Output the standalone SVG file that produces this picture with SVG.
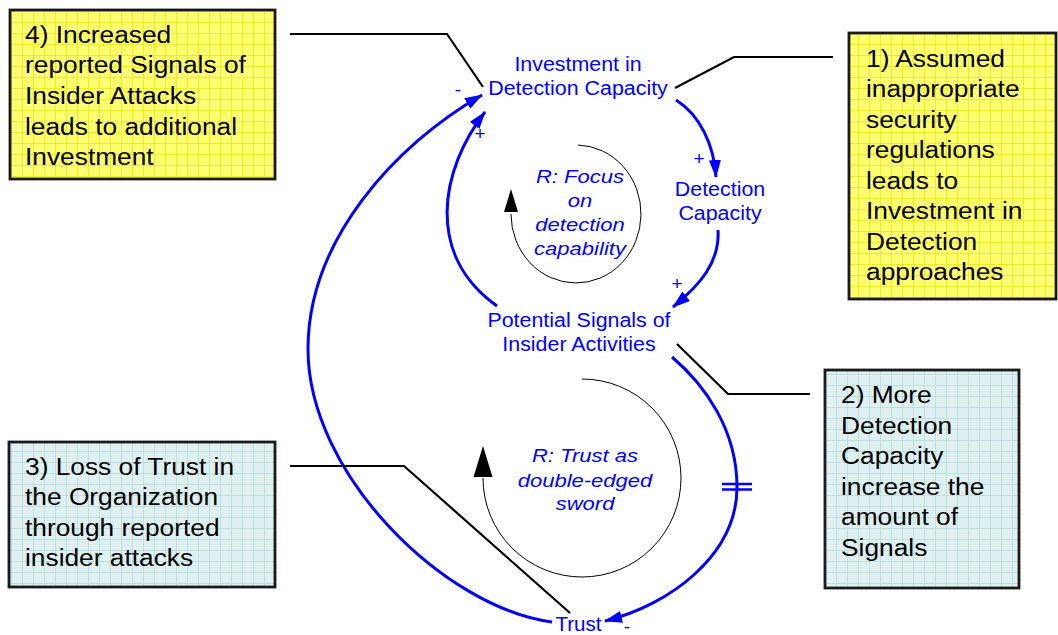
<svg xmlns="http://www.w3.org/2000/svg" width="1058" height="635" viewBox="0 0 1058 635">
<style>
.box{stroke:#1a1a1a;stroke-width:2.8}
.bt{font-family:"Liberation Sans",Arial,sans-serif;font-size:23.5px;fill:#000}
.nt{font-family:"Liberation Sans",Arial,sans-serif;font-size:20px;fill:#0000ff;text-anchor:middle}
.lt{font-family:"Liberation Sans",Arial,sans-serif;font-size:19px;font-style:italic;fill:#0000ff;text-anchor:middle}
.pol{font-family:"Liberation Sans",Arial,sans-serif;font-size:19px;fill:#0000ff;text-anchor:middle}
.link{fill:none;stroke:#0000ff;stroke-width:3}
.call{fill:none;stroke:#000;stroke-width:2.2}
.loop{fill:none;stroke:#000;stroke-width:1}
</style>
<defs>
<pattern id="gy" width="11" height="11" patternUnits="userSpaceOnUse">
<rect width="11" height="11" fill="#ffff70"/>
<path d="M0,0.5 H11 M0.5,0 V11" stroke="#e8e820" stroke-width="0.8"/>
</pattern>
<pattern id="gb" width="11" height="11" patternUnits="userSpaceOnUse">
<rect width="11" height="11" fill="#def0f0"/>
<path d="M0,0.5 H11 M0.5,0 V11" stroke="#b8dcdc" stroke-width="0.8"/>
</pattern>
<marker id="ah" markerUnits="userSpaceOnUse" markerWidth="20" markerHeight="14" refX="17" refY="6" orient="auto">
<path d="M0,0 L18,6 L0,12 z" fill="#0000ff"/>
</marker>
</defs>

<g id="connectors">
<path class="link" d="M676,100 C700,115 714,145 716,177" marker-end="url(#ah)"/>
<path class="link" d="M718,230 C720,262 700,285 673,307" marker-end="url(#ah)"/>
<path class="link" d="M497,306 C425,255 440,170 485,112" marker-end="url(#ah)"/>
<path class="link" d="M552,622 C445,608 308,475 308,349 C308,240 395,145 482,95" marker-end="url(#ah)"/>
<path class="link" d="M672,357 C705,385 737,430 737,487 C737,555 670,605 605,621" marker-end="url(#ah)"/>
<path d="M722,484 H752 M722,489.5 H752" stroke="#0000ff" stroke-width="2.5"/>
<text class="pol" x="458" y="96">-</text>
<text class="pol" x="480" y="140">+</text>
<text class="pol" x="699" y="165">+</text>
<text class="pol" x="677" y="290">+</text>
<text class="pol" x="627" y="633">-</text>
</g>

<g id="callouts">
<path class="call" d="M290,34 H447 L483,87"/>
<path class="call" d="M833,57 H734 L675,88"/>
<path class="call" d="M810,394 H728 L677,344"/>
<path class="call" d="M290,466 H404 L570,613"/>
</g>

<g id="loop-focus">
<path class="loop" d="M578,145 A65,69 0 1 1 511,214"/>
<polygon points="504,212 518,212 511,189" fill="#000"/>
<g transform="translate(580 0) scale(1.16 1)">
<text class="lt" x="0" y="183">R: Focus</text>
<text class="lt" x="0" y="207.5">on</text>
<text class="lt" x="0" y="231.5">detection</text>
<text class="lt" x="0" y="255">capability</text>
</g>
</g>

<g id="loop-trust">
<path class="loop" d="M582,379 A99,99 0 1 1 483,478"/>
<polygon points="473.5,477 492.5,477 483,446" fill="#000"/>
<g transform="translate(585 0) scale(1.16 1)">
<text class="lt" x="0" y="462">R: Trust as</text>
<text class="lt" x="0" y="487.5">double-edged</text>
<text class="lt" x="0" y="510">sword</text>
</g>
</g>

<g id="node-investment" transform="translate(578 0) scale(1.07 1)">
<text class="nt" x="0" y="71">Investment in</text>
<text class="nt" x="0" y="95">Detection Capacity</text>
</g>
<g id="node-detection" transform="translate(720 0) scale(1.07 1)">
<text class="nt" x="0" y="196">Detection</text>
<text class="nt" x="0" y="220">Capacity</text>
</g>
<g id="node-signals" transform="translate(579 0) scale(1.07 1)">
<text class="nt" x="0" y="327">Potential Signals of</text>
<text class="nt" x="0" y="351">Insider Activities</text>
</g>
<g id="node-trust" transform="translate(578.5 0) scale(1.03 1)">
<text class="nt" x="0" y="631">Trust</text>
</g>

<g id="note-4">
<rect class="box" x="10" y="10" width="265" height="169" fill="url(#gy)"/>
<g transform="translate(25 0) scale(1.12 1)">
<text class="bt" x="0" y="43">4) Increased</text>
<text class="bt" x="0" y="73.5">reported Signals of</text>
<text class="bt" x="0" y="104">Insider Attacks</text>
<text class="bt" x="0" y="135">leads to additional</text>
<text class="bt" x="0" y="165.5">Investment</text>
</g>
</g>

<g id="note-1">
<rect class="box" x="849" y="33" width="207" height="266" fill="url(#gy)"/>
<g transform="translate(866 0) scale(1.12 1)">
<text class="bt" x="0" y="67">1) Assumed</text>
<text class="bt" x="0" y="97.5">inappropriate</text>
<text class="bt" x="0" y="128">security</text>
<text class="bt" x="0" y="158.5">regulations</text>
<text class="bt" x="0" y="189">leads to</text>
<text class="bt" x="0" y="219.5">Investment in</text>
<text class="bt" x="0" y="250">Detection</text>
<text class="bt" x="0" y="280.5">approaches</text>
</g>
</g>

<g id="note-2">
<rect class="box" x="825" y="370" width="194" height="218" fill="url(#gb)"/>
<g transform="translate(841 0) scale(1.12 1)">
<text class="bt" x="0" y="403.5">2) More</text>
<text class="bt" x="0" y="434">Detection</text>
<text class="bt" x="0" y="464.5">Capacity</text>
<text class="bt" x="0" y="495">increase the</text>
<text class="bt" x="0" y="525.5">amount of</text>
<text class="bt" x="0" y="556">Signals</text>
</g>
</g>

<g id="note-3">
<rect class="box" x="9" y="442" width="266" height="145" fill="url(#gb)"/>
<g transform="translate(25 0) scale(1.12 1)">
<text class="bt" x="0" y="475">3) Loss of Trust in</text>
<text class="bt" x="0" y="505.5">the Organization</text>
<text class="bt" x="0" y="536">through reported</text>
<text class="bt" x="0" y="566.5">insider attacks</text>
</g>
</g>
</svg>
